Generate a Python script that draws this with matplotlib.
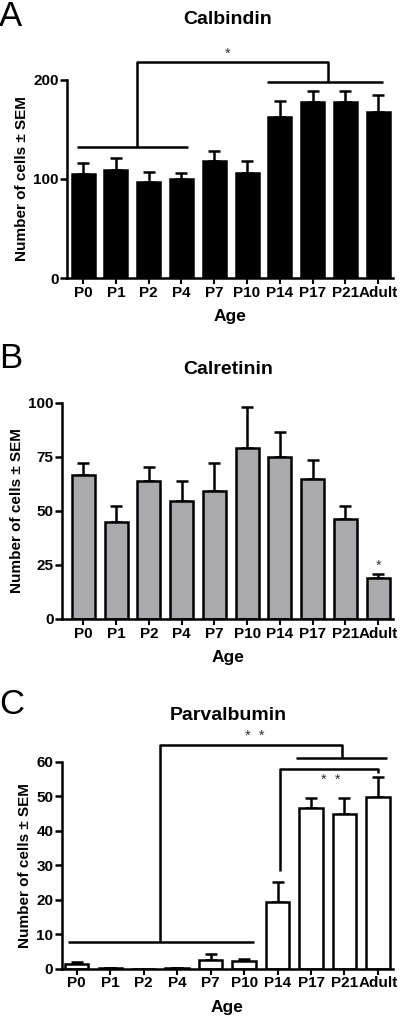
import numpy as np
import matplotlib
matplotlib.use("Agg")
import matplotlib.pyplot as plt

plt.rcParams['font.family'] = ['Liberation Sans', 'DejaVu Sans']
plt.rcParams['font.weight'] = 'bold'

ages = ["P0", "P1", "P2", "P4", "P7", "P10", "P14", "P17", "P21", "Adult"]

calb_mean = [105, 109, 97, 100, 118, 106, 163, 178, 178, 168]
calb_sem = [11.5, 12, 10, 6, 10, 12.5, 16, 11, 11, 17]

calr_mean = [66.6, 45, 63.8, 54.5, 59.2, 79, 75, 64.9, 46.2, 19]
calr_sem = [5.4, 7.4, 6.5, 9.3, 12.8, 19, 11.3, 8.7, 6, 1.8]

parv_mean = [1.3, 0.1, 0, 0.1, 2.5, 2.3, 19.2, 46.5, 44.8, 49.7]
parv_sem = [0.7, 0, 0, 0, 1.7, 0.6, 5.8, 3, 4.8, 6]

# significance brackets, as (x, y) polylines in data units
calb_brackets = [
    ([-0.2, 3.2], [132, 132]),
    ([1.65, 1.65, 7.47, 7.47], [132, 218, 218, 198]),
    ([5.6, 9.15], [198, 198]),
]
calb_stars = [(4.42, 219, "*")]

calr_stars = [(9, 21.5, "*")]

parv_brackets = [
    ([-0.26, 5.3], [7.8, 7.8]),
    ([2.5, 2.5, 7.93, 7.93], [7.8, 64.8, 64.8, 61.2]),
    ([6.54, 9.26], [61.2, 61.2]),
    ([6.06, 6.06, 9.01, 9.01], [28.3, 57.9, 57.9, 56.6]),
]
parv_stars = [(5.33, 65.3, "*  *"), (7.6, 52.8, "*  *")]

W, H = 400, 1019
fig = plt.figure(figsize=(W / 100, H / 100), dpi=100)


def px_axes(left, right, top, bottom):
    return fig.add_axes([left / W, 1 - bottom / H, (right - left) / W, (bottom - top) / H])


def panel(ax, means, sems, color, ylim, yticks, title, letter, xmin,
          brackets=(), stars=(), title_y=None, letter_y=None):
    x = np.arange(len(ages))
    ax.bar(x, means, width=0.7, color=color, edgecolor='black', linewidth=1.8, zorder=2)
    ax.errorbar(x, means, yerr=[np.zeros(len(sems)), sems], fmt='none',
                ecolor='black', elinewidth=1.8, capsize=4.5, capthick=1.8, zorder=1)
    ax.set_xlim(xmin, 9.45)
    ax.set_ylim(*ylim)
    ax.set_yticks(yticks)
    ax.set_xticks(x)
    ax.set_xticklabels(ages)
    for s in ['top', 'right']:
        ax.spines[s].set_visible(False)
    for s in ['left', 'bottom']:
        ax.spines[s].set_linewidth(1.8)
    ax.tick_params(axis='y', length=5, width=1.8, labelsize=11, pad=1)
    ax.tick_params(axis='x', length=4, width=1.5, labelsize=11, pad=1.5)
    for t in ax.get_xticklabels() + ax.get_yticklabels():
        t.set_fontweight('bold')
    ax.set_xlabel("Age", fontsize=12.5, fontweight='bold', labelpad=7)
    ax.set_ylabel("Number of cells \u00b1 SEM", fontsize=11, fontweight='bold', labelpad=3)
    for bx, by in brackets:
        ax.plot(bx, by, color='black', lw=1.8, clip_on=False, solid_capstyle='butt')
    for sx, sy, st in stars:
        ax.text(sx, sy, st, ha='center', va='bottom', fontsize=10.5,
                fontweight='normal', color='#333333')
    fig.text(228 / W, 1 - title_y / H, title, ha='center', va='center',
             fontsize=14, fontweight='bold')
    fig.text(-1 / W, 1 - letter_y / H, letter, ha='left', va='center',
             fontsize=25, fontweight='normal')


axA = px_axes(67, 393, 80, 278)
panel(axA, calb_mean, calb_sem, 'black', (0, 200), [0, 100, 200], "Calbindin", "A",
      -0.49, calb_brackets, calb_stars, title_y=20, letter_y=16)

axB = px_axes(62, 393, 402.7, 619)
panel(axB, calr_mean, calr_sem, '#a9a9ae', (0, 100), [0, 25, 50, 75, 100], "Calretinin", "B",
      -0.65, (), calr_stars, title_y=370, letter_y=358)

axC = px_axes(61.7, 393, 761.7, 968.7)
panel(axC, parv_mean, parv_sem, 'white', (0, 60), [0, 10, 20, 30, 40, 50, 60], "Parvalbumin", "C",
      -0.45, parv_brackets, parv_stars, title_y=716, letter_y=704)

fig.savefig("out.png", dpi=100)
